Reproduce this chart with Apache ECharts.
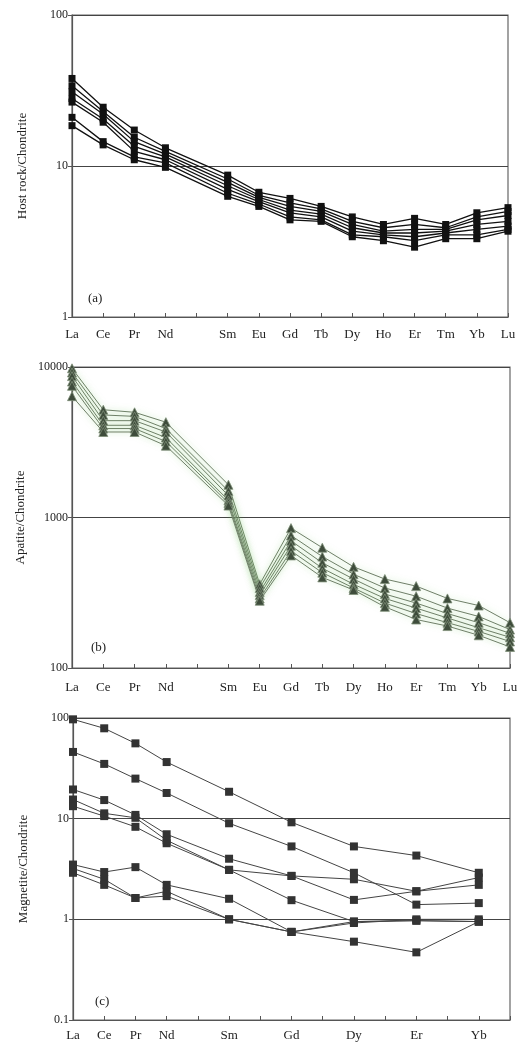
<!DOCTYPE html>
<html><head><meta charset="utf-8">
<script src="https://cdn.jsdelivr.net/npm/echarts@6/dist/echarts.min.js"></script>
<style>html,body{margin:0;padding:0;background:#fff}#c{width:528px;height:1044px}</style>
</head><body><div id="c"></div>
<script>
// Full REE axis (Pm left unlabelled)
const reeAxis = ['La','Ce','Pr','Nd','Pm','Sm','Eu','Gd','Tb','Dy','Ho','Er','Tm','Yb','Lu'];
const reeLabels = ['La','Ce','Pr','Nd','','Sm','Eu','Gd','Tb','Dy','Ho','Er','Tm','Yb','Lu'];
const hostElems = ['La','Ce','Pr','Nd','Sm','Eu','Gd','Tb','Dy','Ho','Er','Tm','Yb','Lu'];
// (a) Host rock / Chondrite
const host1 = [38, 24.5, 17.3, 13.2, 8.7, 6.7, 6.1, 5.4, 4.6, 4.1, 4.5, 4.1, 4.9, 5.3];
const host2 = [34, 23, 15.5, 12.5, 8.2, 6.4, 5.7, 5.2, 4.3, 3.9, 4.1, 3.9, 4.6, 5.0];
const host3 = [31, 22, 14.5, 12, 7.8, 6.2, 5.4, 5.0, 4.1, 3.7, 3.8, 3.8, 4.4, 4.7];
const host4 = [28, 20.5, 13.5, 11.5, 7.4, 6.0, 5.1, 4.8, 3.9, 3.6, 3.6, 3.7, 4.1, 4.3];
const host5 = [26.5, 19.5, 12.5, 11, 7.0, 5.8, 4.9, 4.6, 3.7, 3.5, 3.4, 3.6, 3.8, 4.0];
const host6 = [21, 14.5, 11.5, 10.5, 6.6, 5.6, 4.6, 4.4, 3.5, 3.4, 3.2, 3.5, 3.5, 3.8];
const host7 = [18.5, 13.8, 11, 9.8, 6.3, 5.4, 4.4, 4.3, 3.4, 3.2, 2.9, 3.3, 3.3, 3.7];
// (b) Apatite / Chondrite
const apa1 = [9800, 5200, 5000, 4300, 1650, 360, 850, 630, 470, 390, 350, 290, 260, 200];
const apa2 = [9200, 4800, 4700, 3900, 1500, 340, 760, 550, 420, 340, 300, 250, 220, 180];
const apa3 = [8700, 4400, 4400, 3700, 1400, 320, 700, 500, 390, 310, 270, 230, 200, 170];
const apa4 = [8000, 4100, 4100, 3400, 1300, 305, 650, 460, 360, 290, 250, 215, 185, 160];
const apa5 = [7500, 3900, 3900, 3200, 1250, 290, 600, 430, 340, 270, 230, 200, 175, 150];
const apa6 = [6400, 3700, 3700, 3000, 1200, 280, 560, 400, 330, 255, 210, 190, 165, 138];
// (c) Magnetite / Chondrite
const magElems = ['La','Ce','Pr','Nd','Sm','Gd','Dy','Er','Yb'];
const mag1 = [97, 79, 56, 36.5, 18.5, 9.2, 5.3, 4.3, 2.9];
const mag2 = [46, 35, 25, 18, 9.0, 5.3, 2.9, 1.4, 1.45];
const mag3 = [19.5, 15.3, 10.9, 7.0, 4.0, 2.7, 2.5, 1.9, 2.6];
const mag4 = [15.5, 11.3, 10.2, 6.1, 3.1, 1.55, 0.95, 0.97, 0.95];
const mag5 = [13.3, 10.6, 8.3, 5.7, 3.1, 2.7, 1.56, 1.9, 2.2];
const mag6 = [3.5, 2.95, 3.3, 2.2, 1.6, 0.75, 0.6, 0.47, 0.95];
const mag7 = [3.2, 2.5, 1.63, 1.9, 1.0, 0.75, 0.95, 0.97, 0.95];
const mag8 = [2.9, 2.2, 1.63, 1.7, 1.0, 0.75, 0.92, 1.0, 1.0];
// tick labels
const ticksA = [1, 10, 100];
const ticksB = [100, 1000, 10000];
const ticksC = [0.1, 1, 10, 100];

const FONT = 'Liberation Serif';
function mapTo(elems, vals){
  return reeAxis.map(e => { const i = elems.indexOf(e); return i >= 0 ? vals[i] : '-'; });
}
function fmt(v){ return String(Number(Number(v).toPrecision(3))); }

const grids = [
  {left:72, right:20, top:15, height:302},
  {left:72, right:18, top:367, height:301},
  {left:73, right:18, top:718, height:302}
];
function xAxis(idx, labelFn, margin){
  return {
    type:'category', gridIndex:idx, data:reeAxis, boundaryGap:false,
    axisLine:{show:true, lineStyle:{color:'#555', width:1.2}},
    axisTick:{show:true, alignWithLabel:true, length:4, inside:true, lineStyle:{color:'#555'}},
    axisLabel:{show:true, interval:0, color:'#222', fontFamily:FONT, fontSize:13, margin:margin, formatter:labelFn},
    splitLine:{show:false}
  };
}
function yAxis(idx, min, max, name, nameGap){
  return {
    type:'log', logBase:10, gridIndex:idx, min:min, max:max,
    name:name, nameLocation:'middle', nameGap:nameGap, nameRotate:90,
    nameTextStyle:{fontFamily:FONT, fontSize:13, color:'#222'},
    axisLine:{show:true, lineStyle:{color:'#555', width:1.2}},
    axisTick:{show:true, length:4, lineStyle:{color:'#555'}},
    axisLabel:{color:'#222', fontFamily:FONT, fontSize:12, margin:4, formatter:fmt},
    splitLine:{show:true, lineStyle:{color:'#444', width:1}},
    minorTick:{show:false}
  };
}
const series = [];
[host1,host2,host3,host4,host5,host6,host7].forEach(d => series.push({
  type:'line', xAxisIndex:0, yAxisIndex:0, data:mapTo(hostElems, d), connectNulls:true,
  symbol:'rect', symbolSize:7, itemStyle:{color:'#111'}, lineStyle:{color:'#111', width:1.3}, animation:false
}));
[apa1,apa2,apa3,apa4,apa5,apa6].forEach(d => series.push({
  type:'line', xAxisIndex:1, yAxisIndex:1, data:mapTo(hostElems, d), connectNulls:true,
  symbol:'triangle', symbolSize:9,
  itemStyle:{color:'#3e4c3b', borderColor:'#7f8f78', borderWidth:0.8},
  lineStyle:{color:'#6f7f68', width:1, shadowColor:'rgba(120,200,100,0.55)', shadowBlur:6}, animation:false
}));
[mag1,mag2,mag3,mag4,mag5,mag6,mag7,mag8].forEach(d => series.push({
  type:'line', xAxisIndex:2, yAxisIndex:2, data:mapTo(magElems, d), connectNulls:true,
  symbol:'rect', symbolSize:8, itemStyle:{color:'#333'}, lineStyle:{color:'#444', width:1}, animation:false
}));

const chart = echarts.init(document.getElementById('c'), null, {renderer:'canvas'});
chart.setOption({
  backgroundColor:'#fff',
  animation:false,
  grid: grids.map(g => Object.assign({show:true, borderColor:'#666', borderWidth:1.2, backgroundColor:'transparent'}, g)),
  xAxis:[
    xAxis(0, (v,i) => reeLabels[i], 11),
    xAxis(1, (v,i) => reeLabels[i], 13),
    xAxis(2, (v,i) => magElems.indexOf(v) >= 0 ? v : '', 9)
  ],
  yAxis:[
    yAxis(0, ticksA[0], ticksA[ticksA.length-1], 'Host rock/Chondrite', 43),
    yAxis(1, ticksB[0], ticksB[ticksB.length-1], 'Apatite/Chondrite', 43),
    yAxis(2, ticksC[0], ticksC[ticksC.length-1], 'Magnetite/Chondrite', 43)
  ],
  title:[
    {text:'(a)', left:83, top:287, textStyle:{fontFamily:FONT, fontSize:13, fontWeight:'normal', color:'#222'}},
    {text:'(b)', left:86, top:636, textStyle:{fontFamily:FONT, fontSize:13, fontWeight:'normal', color:'#222'}},
    {text:'(c)', left:90, top:990, textStyle:{fontFamily:FONT, fontSize:13, fontWeight:'normal', color:'#222'}}
  ],
  series:series
});
</script></body></html>
